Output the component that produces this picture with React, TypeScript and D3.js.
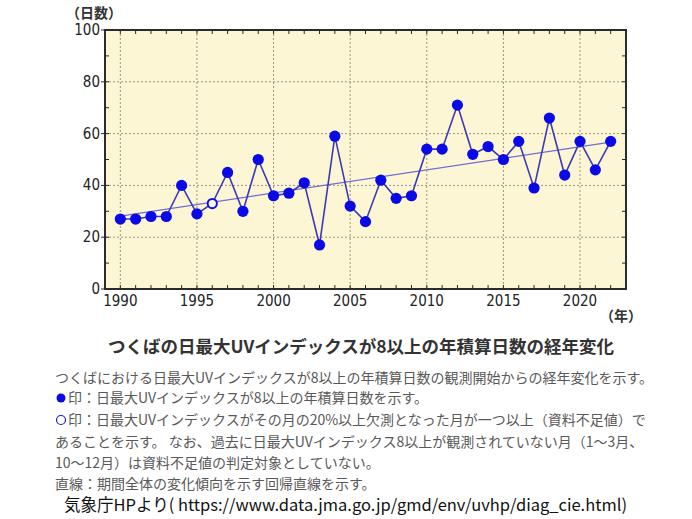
import React from "react";
import * as d3 from "d3";

const years: number[] = d3.range(1990, 2023);
const days: number[] = [
  27, 27, 28, 28, 40, 29, 33, 45, 30, 50,
  36, 37, 41, 17, 59, 32, 26, 42, 35, 36,
  54, 54, 71, 52, 55, 50, 57, 39, 66, 44,
  57, 46, 57,
];
const insufficient: number[] = [1996];
const xTickYears: number[] = [1990, 1995, 2000, 2005, 2010, 2015, 2020];
const yTicks: number[] = [0, 20, 40, 60, 80, 100];

const title = "つくばの日最大UVインデックスが8以上の年積算日数の経年変化";
const notes: string[] = [
  "つくばにおける日最大UVインデックスが8以上の年積算日数の観測開始からの経年変化を示す。",
  "印：日最大UVインデックスが8以上の年積算日数を示す。",
  "印：日最大UVインデックスがその月の20%以上欠測となった月が一つ以上（資料不足値）で",
  "あることを示す。 なお、過去に日最大UVインデックス8以上が観測されていない月（1～3月、",
  "10～12月）は資料不足値の判定対象としていない。",
  "直線：期間全体の変化傾向を示す回帰直線を示す。",
];
const source = "気象庁HPより( https://www.data.jma.go.jp/gmd/env/uvhp/diag_cie.html)";

const W = 692;
const H = 519;
const L = 105, R = 626, T = 30, B = 289;

export default function App() {
  const x = d3.scaleLinear().domain([1989, 2023]).range([L, R]);
  const y = d3.scaleLinear().domain([0, 100]).range([B, T]);

  const pts = years.map((yr, i) => ({ yr, v: days[i] }));
  const mx = d3.mean(years) as number;
  const my = d3.mean(days) as number;
  const sxy = d3.sum(pts, (p) => (p.yr - mx) * (p.v - my));
  const sxx = d3.sum(pts, (p) => (p.yr - mx) * (p.yr - mx));
  const slope = sxy / sxx;
  const icpt = my - slope * mx;
  const y0 = years[0];
  const y1 = years[years.length - 1];

  const line = d3
    .line<{ yr: number; v: number }>()
    .x((d) => x(d.yr))
    .y((d) => y(d.v));

  const tickFont = "'Liberation Sans Narrow', 'DejaVu Sans Condensed', Roboto, sans-serif";
  const jp = "'Noto Sans CJK JP', sans-serif";
  const gridCol = "#9a9580";
  const frame = "#2b2b2b";
  const minorY = d3.range(0, 101, 10);

  return (
    <svg
      width={W}
      height={H}
      style={{ position: "absolute", left: 0, top: 0, background: "#fff" }}
    >
      <rect x={L} y={T} width={R - L} height={B - T} fill="#fdf6d5" />
      {/* grid */}
      {xTickYears.map((yr) => (
        <line
          key={"gx" + yr}
          x1={x(yr)}
          x2={x(yr)}
          y1={T}
          y2={B}
          stroke={gridCol}
          strokeWidth={1}
          strokeDasharray="2,2"
        />
      ))}
      {yTicks.slice(1, -1).map((v) => (
        <line
          key={"gy" + v}
          x1={L}
          x2={R}
          y1={y(v)}
          y2={y(v)}
          stroke={gridCol}
          strokeWidth={1}
          strokeDasharray="2,2"
        />
      ))}
      {/* minor ticks */}
      {years.map((yr) => (
        <g key={"t" + yr}>
          <line x1={x(yr)} x2={x(yr)} y1={B} y2={B - 4} stroke={frame} strokeWidth={1} />
          <line x1={x(yr)} x2={x(yr)} y1={T} y2={T + 4} stroke={frame} strokeWidth={1} />
        </g>
      ))}
      {minorY.map((v) => (
        <g key={"ty" + v}>
          <line x1={L} x2={L + 4} y1={y(v)} y2={y(v)} stroke={frame} strokeWidth={1} />
          <line x1={R} x2={R - 4} y1={y(v)} y2={y(v)} stroke={frame} strokeWidth={1} />
        </g>
      ))}
      {yTicks.map((v) => (
        <line key={"lo" + v} x1={L - 4} x2={L} y1={y(v)} y2={y(v)} stroke={frame} strokeWidth={1} />
      ))}
      {/* frame */}
      <rect x={L} y={T} width={R - L} height={B - T} fill="none" stroke={frame} strokeWidth={2} />

      {/* regression */}
      <line
        x1={x(y0)}
        x2={x(y1)}
        y1={y(icpt + slope * y0)}
        y2={y(icpt + slope * y1)}
        stroke="#6f6fd0"
        strokeWidth={1.2}
      />
      {/* series line */}
      <path d={line(pts) || ""} fill="none" stroke="#3a3ab8" strokeWidth={1.6} />
      {pts.map((p) =>
        insufficient.includes(p.yr) ? (
          <circle key={p.yr} cx={x(p.yr)} cy={y(p.v)} r={4.6} fill="#fff" stroke="#1010e0" strokeWidth={2} />
        ) : (
          <circle key={p.yr} cx={x(p.yr)} cy={y(p.v)} r={5.6} fill="#0a0ae6" />
        )
      )}

      {/* tick labels */}
      {xTickYears.map((yr) => (
        <text
          key={"xl" + yr}
          x={x(yr)}
          y={306}
          textAnchor="middle"
          fontFamily={tickFont}
          fontSize={15}
          fill="#222"
        >
          {yr}
        </text>
      ))}
      {yTicks.map((v) => (
        <text
          key={"yl" + v}
          x={100}
          y={y(v) + 5}
          textAnchor="end"
          fontFamily={tickFont}
          fontSize={15}
          fill="#222"
        >
          {v}
        </text>
      ))}
      <text x={66} y={18} fontFamily={jp} fontSize={14} fontWeight="bold" fill="#333">
        （日数）
      </text>
      <text x={600} y={321} fontFamily={jp} fontSize={14} fontWeight="bold" fill="#333">
        （年）
      </text>

      {/* title */}
      <text
        x={361}
        y={353}
        textAnchor="middle"
        fontFamily={jp}
        fontSize={17.5}
        fontWeight="bold"
        fill="#333"
      >
        {title}
      </text>

      {/* notes */}
      <g fontFamily={jp} fontSize={14} fill="#595959">
        <text x={55} y={383}>{notes[0]}</text>
        <circle cx={61} cy={398} r={4.5} fill="#0a0ae6" />
        <text x={68} y={403}>{notes[1]}</text>
        <circle cx={61} cy={420} r={4.5} fill="none" stroke="#1a1ae0" strokeWidth={1.2} />
        <text x={68} y={425}>{notes[2]}</text>
        <text x={55} y={447}>{notes[3]}</text>
        <text x={55} y={468}>{notes[4]}</text>
        <text x={55} y={489}>{notes[5]}</text>
      </g>
      <text x={64} y={511} fontFamily={jp} fontSize={16.5} fill="#111">
        {source}
      </text>
    </svg>
  );
}
